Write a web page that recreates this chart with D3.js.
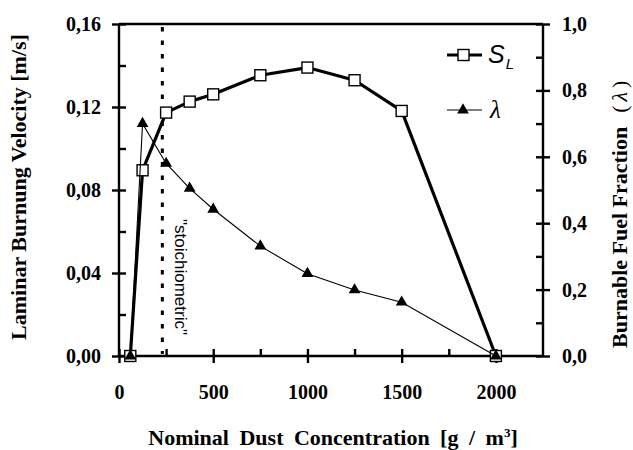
<!DOCTYPE html>
<html>
<head>
<meta charset="utf-8">
<script src="https://cdn.jsdelivr.net/npm/d3@7"></script>
<style>
  html, body { margin: 0; padding: 0; background: #fff; }
  svg { display: block; }
</style>
</head>
<body>
<script>
// ---- data ----
const concentration = [60, 125, 250, 375, 500, 750, 1000, 1250, 1500, 2000];
const burningVelocity = [0, 0.0895, 0.1173, 0.1226, 0.1261, 0.1353, 0.1390, 0.1329, 0.1181, 0];
const fuelFraction = [0, 0.70, 0.58, 0.505, 0.442, 0.331, 0.248, 0.199, 0.162, 0];
const stoichiometric = 230;
const xMajorTicks = [0, 500, 1000, 1500, 2000];
const xMinorTicks = [250, 750, 1250, 1750];
const yLeftMajorTicks = [0, 0.04, 0.08, 0.12, 0.16];
const yLeftMinorTicks = [0.02, 0.06, 0.10, 0.14];
const yRightMajorTicks = [0, 0.2, 0.4, 0.6, 0.8, 1.0];
const yRightMinorTicks = [0.1, 0.3, 0.5, 0.7, 0.9];

const W = 633, H = 450;
const m = { left: 119, right: 90, top: 24, bottom: 94 };
const svg = d3.select("body").append("svg").attr("width", W).attr("height", H);

const x = d3.scaleLinear().domain([0, 2250]).range([m.left, W - m.right]);
const yL = d3.scaleLinear().domain([0, 0.16]).range([H - m.bottom, m.top]);
const yR = d3.scaleLinear().domain([0, 1]).range([H - m.bottom, m.top]);

const serif = "'Liberation Serif', 'Times New Roman', serif";
const sans = "'Liberation Sans', Arial, sans-serif";
const comma = f => d => d3.format(f)(d).replace(".", ",");
const AX = 2.4;

function styleAxis(g) {
  g.select(".domain").remove();
  g.selectAll("line").attr("stroke", "#000").attr("stroke-width", AX);
  g.selectAll("text").attr("font-family", serif).attr("font-weight", "bold")
    .attr("font-size", 20).attr("fill", "#000");
}

// frame lines
const x0 = x(0), x1 = x(2250), yb = yL(0), yt = yL(0.16);
svg.append("line").attr("x1", x0).attr("x2", x1).attr("y1", yt).attr("y2", yt).attr("stroke", "#000").attr("stroke-width", AX);
svg.append("line").attr("x1", x0).attr("x2", x1).attr("y1", yb).attr("y2", yb).attr("stroke", "#000").attr("stroke-width", AX);
svg.append("line").attr("x1", x0).attr("x2", x0).attr("y1", yt).attr("y2", yb).attr("stroke", "#000").attr("stroke-width", AX);
svg.append("line").attr("x1", x1).attr("x2", x1).attr("y1", yt).attr("y2", yb).attr("stroke", "#000").attr("stroke-width", AX);

// left axis
const gL = svg.append("g").attr("transform", `translate(${x0},0)`)
  .call(d3.axisLeft(yL).tickValues(yLeftMajorTicks).tickFormat(comma(".2f")).tickSize(7).tickSizeOuter(0));
styleAxis(gL);
gL.selectAll(".tick line").attr("x1", -7).attr("x2", 7);
gL.selectAll(".tick text").attr("x", -18);
const gLm = svg.append("g").attr("transform", `translate(${x0},0)`)
  .call(d3.axisRight(yL).tickValues(yLeftMinorTicks).tickFormat("").tickSize(7).tickSizeOuter(0));
styleAxis(gLm);

// right axis
const gR = svg.append("g").attr("transform", `translate(${x1},0)`)
  .call(d3.axisRight(yR).tickValues(yRightMajorTicks).tickFormat(comma(".1f")).tickSize(7).tickSizeOuter(0));
styleAxis(gR);
gR.selectAll(".tick line").attr("x1", -7).attr("x2", 7);
gR.selectAll(".tick text").attr("x", 19);
const gRm = svg.append("g").attr("transform", `translate(${x1},0)`)
  .call(d3.axisLeft(yR).tickValues(yRightMinorTicks).tickFormat("").tickSize(7).tickSizeOuter(0));
styleAxis(gRm);

// bottom axis
const gB = svg.append("g").attr("transform", `translate(0,${yb})`)
  .call(d3.axisBottom(x).tickValues(xMajorTicks).tickFormat(d3.format("d")).tickSize(7).tickSizeOuter(0));
styleAxis(gB);
gB.selectAll(".tick line").attr("y1", -7).attr("y2", 7);
gB.selectAll(".tick text").attr("y", 29);
const gBm = svg.append("g").attr("transform", `translate(0,${yb})`)
  .call(d3.axisTop(x).tickValues(xMinorTicks).tickFormat("").tickSize(7).tickSizeOuter(0));
styleAxis(gBm);

// stoichiometric line
svg.append("line").attr("x1", x(stoichiometric)).attr("x2", x(stoichiometric))
  .attr("y1", yt + 3).attr("y2", yb - 2)
  .attr("stroke", "#000").attr("stroke-width", 3).attr("stroke-dasharray", "4.5,9");
svg.append("text").attr("transform", `translate(${x(stoichiometric) + 13},219) rotate(90)`)
  .attr("font-family", sans).attr("font-size", 17).attr("fill", "#000")
  .text("\"stoichiometric\"");

// series
const ptsS = concentration.map((c, i) => [c, burningVelocity[i]]);
const ptsL = concentration.map((c, i) => [c, fuelFraction[i]]);

svg.append("path").datum(ptsS)
  .attr("d", d3.line().x(d => x(d[0])).y(d => yL(d[1])))
  .attr("fill", "none").attr("stroke", "#000").attr("stroke-width", 3.2).attr("stroke-linejoin", "round");
svg.selectAll("rect.sq").data(ptsS).enter().append("rect").attr("class", "sq")
  .attr("x", d => x(d[0]) - 5.5).attr("y", d => yL(d[1]) - 5.5)
  .attr("width", 11).attr("height", 11)
  .attr("fill", "#fff").attr("stroke", "#000").attr("stroke-width", 1.4);

svg.append("path").datum(ptsL)
  .attr("d", d3.line().x(d => x(d[0])).y(d => yR(d[1])))
  .attr("fill", "none").attr("stroke", "#000").attr("stroke-width", 1.1);
const tri = d3.symbol().type(d3.symbolTriangle).size(60);
svg.selectAll("path.tri").data(ptsL).enter().append("path").attr("class", "tri")
  .attr("d", tri).attr("transform", d => `translate(${x(d[0])},${yR(d[1])})`)
  .attr("fill", "#000");

// legend
const lg = svg.append("g");
lg.append("line").attr("x1", 447).attr("x2", 482).attr("y1", 55).attr("y2", 55).attr("stroke", "#000").attr("stroke-width", 3.2);
lg.append("rect").attr("x", 458).attr("y", 49.5).attr("width", 11).attr("height", 11).attr("fill", "#fff").attr("stroke", "#000").attr("stroke-width", 1.4);
const sl = lg.append("text").attr("x", 488).attr("y", 63).attr("font-family", sans).attr("font-style", "italic").attr("font-size", 25).attr("fill", "#000");
sl.append("tspan").text("S");
sl.append("tspan").attr("font-size", 15).attr("dy", 6).attr("dx", 1).text("L");
lg.append("line").attr("x1", 447).attr("x2", 482).attr("y1", 110).attr("y2", 110).attr("stroke", "#000").attr("stroke-width", 1.1);
lg.append("path").attr("d", tri).attr("transform", "translate(463,110)").attr("fill", "#000");
lg.append("text").attr("x", 490).attr("y", 118).attr("font-family", serif).attr("font-style", "italic").attr("font-size", 25).attr("fill", "#000").text("λ");

// axis titles
svg.append("text").attr("x", 333).attr("y", 445)
  .attr("text-anchor", "middle").attr("font-family", serif).attr("font-weight", "bold").attr("font-size", 22).attr("fill", "#000")
  .attr("word-spacing", 5)
  .call(t => { t.append("tspan").text("Nominal Dust Concentration [g / m"); t.append("tspan").attr("font-size", 13).attr("dy", -8).text("3"); t.append("tspan").attr("dy", 8).text("]"); });

svg.append("text").attr("transform", "translate(26,187) rotate(-90)")
  .attr("text-anchor", "middle").attr("font-family", serif).attr("font-weight", "bold").attr("font-size", 22).attr("fill", "#000")
  .text("Laminar Burnung Velocity [m/s]");

const rt = svg.append("text").attr("transform", "translate(627,348) rotate(-90)")
  .attr("font-family", serif).attr("font-weight", "bold").attr("font-size", 22).attr("fill", "#000");
rt.append("tspan").text("Burnable Fuel Fraction");
rt.append("tspan").attr("dx", 14).attr("font-weight", "normal").text("(");
rt.append("tspan").attr("dx", 4).attr("font-weight", "normal").attr("font-style", "italic").text("λ");
rt.append("tspan").attr("dx", 4).attr("font-weight", "normal").text(")");
</script>
</body>
</html>
